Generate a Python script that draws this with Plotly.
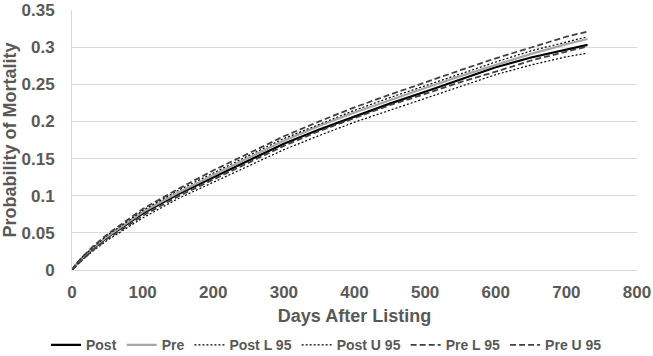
import plotly.graph_objects as go

days = [0, 5, 15, 30, 50, 75, 100, 150, 200, 250, 300, 350, 400, 450, 500, 550, 600, 650, 700, 730]

post = [0, 0.006, 0.016, 0.029, 0.044, 0.060, 0.076, 0.102, 0.125, 0.148, 0.170, 0.189, 0.207, 0.224, 0.240, 0.257, 0.273, 0.286, 0.297, 0.303]
pre = [0, 0.006, 0.016, 0.030, 0.045, 0.061, 0.078, 0.104, 0.128, 0.151, 0.174, 0.194, 0.212, 0.229, 0.245, 0.261, 0.276, 0.291, 0.304, 0.311]
post_l95 = [0, 0.005, 0.014, 0.026, 0.040, 0.055, 0.070, 0.096, 0.118, 0.141, 0.162, 0.181, 0.199, 0.215, 0.231, 0.248, 0.263, 0.276, 0.287, 0.292]
post_u95 = [0, 0.007, 0.018, 0.031, 0.047, 0.063, 0.080, 0.107, 0.131, 0.154, 0.177, 0.196, 0.215, 0.232, 0.248, 0.265, 0.280, 0.295, 0.307, 0.314]
pre_l95 = [0, 0.005, 0.014, 0.027, 0.042, 0.057, 0.073, 0.099, 0.122, 0.145, 0.167, 0.187, 0.205, 0.222, 0.237, 0.253, 0.267, 0.282, 0.294, 0.301]
pre_u95 = [0, 0.007, 0.018, 0.032, 0.048, 0.065, 0.082, 0.109, 0.134, 0.157, 0.180, 0.200, 0.219, 0.236, 0.253, 0.269, 0.285, 0.300, 0.314, 0.321]

y_ticks = [0, 0.05, 0.1, 0.15, 0.2, 0.25, 0.3, 0.35]
y_tick_text = ["0", "0.05", "0.1", "0.15", "0.2", "0.25", "0.3", "0.35"]
x_ticks = [0, 100, 200, 300, 400, 500, 600, 700, 800]

FONT = "Liberation Sans, Arial, sans-serif"
TXT = "#595959"

series = [
    ("Post", post, dict(color="#000000", width=2.2, dash="solid")),
    ("Pre", pre, dict(color="#A6A6A6", width=2.2, dash="solid")),
    ("Post L 95", post_l95, dict(color="#000000", width=1.2, dash="2px,2px")),
    ("Post U 95", post_u95, dict(color="#000000", width=1.2, dash="2px,2px")),
    ("Pre L 95", pre_l95, dict(color="#404040", width=1.8, dash="6px,3px")),
    ("Pre U 95", pre_u95, dict(color="#404040", width=1.8, dash="6px,3px")),
]

fig = go.Figure()
for name, vals, line in series:
    fig.add_trace(go.Scatter(x=days, y=vals, mode="lines", name=name, line=line))

fig.update_layout(
    width=653, height=356,
    margin=dict(l=72, r=16, t=10, b=86, autoexpand=False),
    paper_bgcolor="white", plot_bgcolor="white",
    font=dict(family=FONT, color=TXT, size=16, weight="bold"),
    legend=dict(
        orientation="h", x=0.4504, xanchor="center", y=-0.228, yanchor="top",
        font=dict(size=14, color=TXT, family=FONT, weight="bold"),
        itemwidth=30, tracegroupgap=0,
    ),
    xaxis=dict(
        range=[0, 800], tickvals=x_ticks, showgrid=False, automargin=False,
        showline=True, linecolor="#D9D9D9", linewidth=1, zeroline=False,
        tickfont=dict(size=17, color=TXT, family=FONT, weight="bold"),
        ticklabelstandoff=7, ticklabeloverflow="allow",
        title=dict(text="Days After Listing", standoff=7,
                   font=dict(size=18, color=TXT, family=FONT, weight="bold")),
    ),
    yaxis=dict(
        range=[0, 0.35], tickvals=y_ticks, ticktext=y_tick_text, automargin=False,
        showgrid=True, gridcolor="#D9D9D9", gridwidth=1,
        showline=True, linecolor="#D9D9D9", linewidth=1, zeroline=False,
        tickfont=dict(size=17, color=TXT, family=FONT, weight="bold"),
        ticklabelstandoff=13, ticklabeloverflow="allow",
        title=dict(text="Probability of Mortality", standoff=0,
                   font=dict(size=18, color=TXT, family=FONT, weight="bold")),
    ),
)

fig.write_html("out.html", config={"displayModeBar": False},
               post_script="document.body.style.margin='0';")
